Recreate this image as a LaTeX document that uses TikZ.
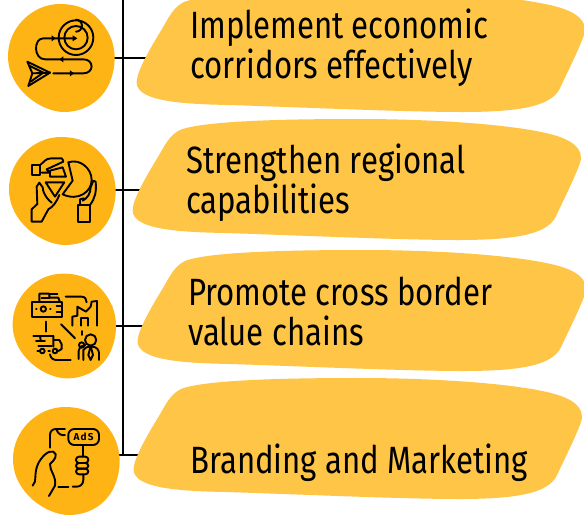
\documentclass[tikz,border=0pt]{standalone}
\usepackage{fontspec}
\setmainfont[FakeStretch=0.82]{Fira Sans}
\newfontfamily\adsfont[LetterSpace=12]{Fira Sans Bold}
\definecolor{blobfill}{HTML}{FEC547}
\definecolor{discfill}{HTML}{FFB415}
\newcommand{\blobshape}{(133,207) .. controls (135,195) and (150,170) .. (158,157) .. controls (166,143) and (170,135) .. (180,130) .. controls (205,120) and (300,119) .. (358,119) .. controls (430,119) and (510,124) .. (550,134) .. controls (570,139) and (585,148) .. (580,163) .. controls (575,177) and (565,197) .. (557,214) .. controls (550,232) and (525,240) .. (458,240) .. controls (400,240) and (290,235) .. (225,233) .. controls (170,232) and (128,228) .. (133,207) -- cycle}
\newcommand{\discshape}{(-54,-2) .. controls (-54,-30) and (-30,-54) .. (-2,-54) .. controls (25,-54) and (38,-40) .. (46,-26) .. controls (54,-12) and (54,5) .. (50,18) .. controls (44,40) and (25,54) .. (2,54) .. controls (-20,54) and (-54,32) .. (-54,-2) -- cycle}
\tikzset{
  x=1pt,y=-1pt,
  trunkline/.style={line width=2.8pt,black},
  blobstyle/.style={fill=blobfill,draw=none},
  discstyle/.style={fill=discfill,draw=none},
  label/.style={anchor=base west,align=left,inner sep=0pt,text=black,font=\fontsize{38}{39.5}\selectfont},
  iconline/.style={line width=1.9pt,black,line cap=round,line join=round},
}
\begin{document}
\begin{tikzpicture}
\useasboundingbox (0,0) rectangle (584,515);
\clip (0,0) rectangle (584,515);
\fill[white] (0,0) rectangle (584,515);
\coordinate (trunkTop) at (123,-2);
\coordinate (trunkEnd) at (123,455);
\coordinate (c1) at (62,58);
\coordinate (c2) at (63,191);
\coordinate (c3) at (65,326);
\coordinate (c4) at (67,461);
\coordinate (j1) at (150,58);
\coordinate (j2) at (150,190);
\coordinate (j3) at (150,326);
\coordinate (j4) at (150,455);
\draw[trunkline,line cap=rect] (trunkTop) -- (trunkEnd);
\draw[trunkline] (j1-|c1) -- (j1);
\draw[trunkline] (j2-|c2) -- (j2);
\draw[trunkline] (j3-|c3) -- (j3);
\draw[trunkline] (j4-|c4) -- (j4);
% blobs
\path[blobstyle,shift={(4,-128)}] \blobshape;
\path[blobstyle] \blobshape;
\path[blobstyle,shift={(5,131)}] \blobshape;
\path[blobstyle,shift={(1,259)}] \blobshape;
% discs
\path[discstyle,shift={(c1)}] \discshape;
\path[discstyle,shift={(c2)}] \discshape;
\path[discstyle,shift={(c3)},scale=0.97] \discshape;
\path[discstyle,shift={(c4)}] \discshape;
% labels
\node[label] (t1) at (190,78) {Implement economic\\corridors effectively};
\node[label] (t2) at (186,213) {Strengthen regional\\capabilities};
\node[label] (t3) at (188,345) {Promote cross border\\value chains};
\node[label] (t4) at (190,473) {Branding and Marketing};
% icon 1
\begin{scope}[x=0.3333pt,y=-0.3333pt,iconline]
\draw (228,113) circle (52);
\draw (228,113) circle (35);
\draw (228,95) arc (90:-90:18) ;
\draw (225,115) -- (130,115) .. controls (100,115) and (100,178) .. (135,178) -- (250,178) .. controls (283,178) and (283,220) .. (250,220) -- (160,220);
\fill (232,115) -- (218,106) -- (218,124) -- cycle;
\fill (167,115) -- (155,106) -- (155,124) -- cycle;
\fill (178,178) -- (190,169) -- (190,187) -- cycle;
\fill (222,220) -- (210,211) -- (210,229) -- cycle;
\draw (82,185) -- (150,218) -- (85,258) -- (97,220) -- cycle;
\draw (90,198) -- (130,218) -- (92,245);
\draw (97,220) -- (150,218);
\end{scope}
% icon 2
\begin{scope}[shift={(0,130)},x=0.3333pt,y=-0.3333pt,iconline]
\draw (95,105) rectangle (120,135);
\draw (120,105) .. controls (135,95) and (135,85) .. (155,85) -- (185,85) -- (190,92);
\draw (125,128) -- (150,128) -- (140,118) -- (190,95) ;
\draw (150,122) -- (188,112) -- (198,140) -- (150,140) -- cycle;
\draw (205,97) .. controls (240,85) and (275,115) .. (275,150) .. controls (275,185) and (235,215) .. (188,193) -- (218,152) -- cycle;
\draw (137,157) -- (193,157) -- (165,200) -- cycle;
\draw (95,238) -- (95,275) -- (125,275) -- (145,238) .. controls (160,230) and (170,215) .. (178,195);
\draw (95,238) -- (112,222) -- (110,170) -- (118,158) -- (128,172) .. controls (130,195) and (145,210) .. (155,218);
\draw (235,225) rectangle (270,275);
\draw (240,225) -- (240,208) -- (252,205);
\draw (270,225) .. controls (285,205) and (290,185) .. (287,155) -- (280,152) -- (272,172) .. controls (272,190) and (262,205) .. (248,212);
\end{scope}
% icon 3
\begin{scope}[shift={(0,265)},x=0.3333pt,y=-0.3333pt,iconline]
\draw (95,112) rectangle (185,155);
\draw (130,132) circle (8);
\draw (108,132) -- (110,132) (150,132) -- (152,132) (170,122) -- (185,122) (170,140) -- (185,140);
\draw (118,110) -- (118,86) -- (148,86) -- (148,98) -- (175,98) -- (180,112);
\draw (125,98) -- (148,98) (150,88) -- (172,88);
\draw (197,95) -- (245,95) .. controls (255,95) and (260,103) .. (260,112);
\draw (217,182) -- (217,155) -- (232,152) -- (232,125) -- (258,140) -- (272,125) -- (275,110) -- (291,108) -- (291,182);
\draw (243,182) -- (243,158) -- (265,158) -- (265,182);
\draw (137,170) -- (137,200);
\draw (183,178) -- (225,220);
\draw (245,198) -- (245,210);
\draw (100,213) -- (160,213);
\draw (108,228) -- (135,228) (115,243) -- (155,243) (120,213) -- (122,225);
\draw (160,213) -- (160,245) (160,225) -- (178,225) -- (185,238) -- (185,252) -- (175,258);
\draw (127,258) circle (7);
\draw (165,258) circle (7);
\draw (145,258) -- (150,258) (112,258) -- (118,258);
\draw (150,268) .. controls (152,280) and (160,285) .. (170,285) -- (212,285);
\draw (272,225) circle (17);
\draw (236,282) -- (236,258) .. controls (238,245) and (248,240) .. (256,240);
\draw (245,240) circle (8);
\draw (250,285) -- (250,255) .. controls (255,248) and (262,245) .. (268,245);
\draw (276,245) .. controls (290,245) and (297,255) .. (297,265) -- (297,285);
\draw (272,243) -- (265,270) -- (272,285) -- (279,270) -- cycle;
\end{scope}
% icon 4
\begin{scope}[shift={(0,395)},x=0.3333pt,y=-0.3333pt,iconline]
\draw (150,158) -- (150,120) .. controls (150,108) and (158,102) .. (168,102) -- (195,102);
\draw (170,105) .. controls (175,118) and (185,122) .. (195,120);
\draw[rounded corners=6pt] (205,102) rectangle (297,150);
\node[inner sep=0pt,font=\adsfont\fontsize{10}{10}\selectfont] (adtext) at (251,126) {AdS};
\draw (250,150) -- (250,185);
\draw[rounded corners=3pt] (228,185) rectangle (265,204);
\draw[rounded corners=3pt] (228,204) rectangle (265,221);
\draw[rounded corners=3pt] (228,221) rectangle (265,238);
\draw (250,238) -- (250,255) .. controls (250,268) and (240,275) .. (230,275) -- (218,275);
\draw (175,275) -- (205,275);
\draw (98,272) .. controls (112,260) and (100,235) .. (115,205) .. controls (125,185) and (145,165) .. (160,170) .. controls (175,178) and (165,195) .. (150,207) .. controls (148,225) and (170,245) .. (165,272) -- (147,303);
\end{scope}
\end{tikzpicture}
\end{document}
